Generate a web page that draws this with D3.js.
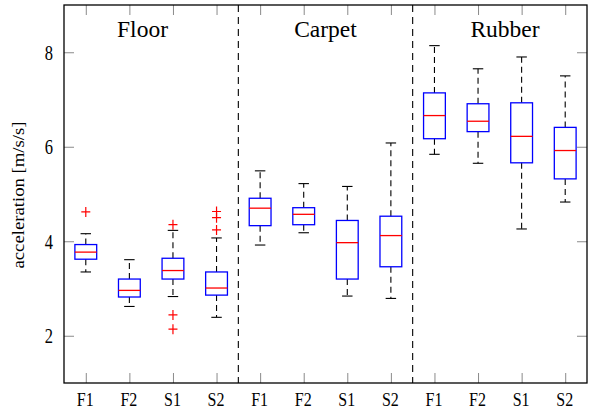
<!DOCTYPE html>
<html>
<head>
<meta charset="utf-8">
<script src="https://cdn.jsdelivr.net/npm/d3@7"></script>
<style>
  html, body { margin: 0; padding: 0; background: #fff; }
  svg { display: block; }
</style>
</head>
<body>
<svg id="chart" width="589" height="411"></svg>
<script>
// ---- data ----
const groups = ["Floor", "Carpet", "Rubber"];
const categories = ["F1", "F2", "S1", "S2", "F1", "F2", "S1", "S2", "F1", "F2", "S1", "S2"];
const lowerWhisker = [3.35, 2.62, 2.83, 2.39, 3.92, 4.18, 2.84, 2.79, 5.84, 5.65, 4.26, 4.83];
const q1Values     = [3.62, 2.82, 3.20, 2.86, 4.33, 4.35, 3.20, 3.46, 6.17, 6.32, 5.66, 5.32];
const medianValues = [3.77, 2.96, 3.38, 3.01, 4.70, 4.57, 3.97, 4.12, 6.66, 6.54, 6.22, 5.92];
const q3Values     = [3.93, 3.20, 3.64, 3.35, 4.91, 4.71, 4.44, 4.53, 7.14, 6.91, 6.93, 6.41];
const upperWhisker = [4.16, 3.61, 4.23, 4.07, 5.49, 5.22, 5.16, 6.08, 8.14, 7.65, 7.90, 7.50];
const outliers = [[4.62], [], [4.35, 2.44, 2.14], [4.63, 4.50, 4.24], [], [], [], [], [], [], [], []];
const yTicks = [2, 4, 6, 8];
const yLabel = "acceleration [m/s/s]";

// ---- layout ----
const FONT = "'Liberation Serif', serif";
const svg = d3.select("#chart");
const mLeft = 64, mRight = 587, mTop = 5, mBottom = 383;
const x = d3.scaleLinear().domain([0.5, 12.5]).range([mLeft, mRight]);
const y = d3.scaleLinear().domain([1, 9]).range([mBottom, mTop]);
const positions = categories.map((c, i) => i + 1);
const tickColor = "#8a8a8a";

// Left axis (ticks inward)
const gL = svg.append("g").attr("transform", `translate(${mLeft},0)`)
  .call(d3.axisLeft(y).tickValues(yTicks).tickFormat(d3.format("d")).tickSizeInner(-10).tickSizeOuter(0).tickPadding(11));
gL.attr("font-family", null).attr("font-size", null);
gL.select(".domain").remove();
gL.selectAll(".tick line").attr("stroke", tickColor);
gL.selectAll(".tick text").attr("dy", null).attr("y", null).attr("x", null)
  .attr("text-anchor", "end").attr("fill", "#000")
  .style("font-family", FONT).style("font-size", "16.5px")
  .attr("transform", "translate(-11,6.8) scale(1,1.25)");

// Right mirror ticks
const gR = svg.append("g").attr("transform", `translate(${mRight},0)`)
  .call(d3.axisRight(y).tickValues(yTicks).tickFormat("").tickSizeInner(-10).tickSizeOuter(0));
gR.select(".domain").remove();
gR.selectAll(".tick line").attr("stroke", tickColor);

// Bottom axis (ticks inward)
const gB = svg.append("g").attr("transform", `translate(0,${mBottom})`)
  .call(d3.axisBottom(x).tickValues(positions).tickFormat((d, i) => categories[i]).tickSizeInner(-10).tickSizeOuter(0));
gB.attr("font-family", null).attr("font-size", null);
gB.select(".domain").remove();
gB.selectAll(".tick line").attr("stroke", tickColor);
gB.selectAll(".tick text").attr("dy", null).attr("y", null).attr("fill", "#000")
  .style("font-family", FONT).style("font-size", "16px")
  .attr("transform", "translate(-1,22.7) scale(1,1.18)");

// Top mirror ticks
const gT = svg.append("g").attr("transform", `translate(0,${mTop})`)
  .call(d3.axisTop(x).tickValues(positions).tickFormat("").tickSizeInner(-10).tickSizeOuter(0));
gT.select(".domain").remove();
gT.selectAll(".tick line").attr("stroke", tickColor);

// Group separators
[4.5, 8.5].forEach(v => {
  svg.append("line")
    .attr("x1", x(v)).attr("x2", x(v)).attr("y1", mTop).attr("y2", mBottom)
    .attr("stroke", "#000").attr("stroke-width", 1.1).attr("stroke-dasharray", "7,5");
});

// Group labels
const groupLabelX = [142.5, 325.5, 505];
svg.selectAll("text.group").data(groups).join("text")
  .attr("class", "group")
  .attr("x", (d, i) => groupLabelX[i]).attr("y", 36.5)
  .attr("text-anchor", "middle").attr("fill", "#000")
  .style("font-family", FONT).style("font-size", "23.5px")
  .text(d => d);

// Boxes
const halfBox = 0.25, halfCap = 0.12;
const boxes = svg.append("g");
positions.forEach((p, i) => {
  const g = boxes.append("g");
  g.append("line").attr("x1", x(p)).attr("x2", x(p))
    .attr("y1", y(q3Values[i])).attr("y2", y(upperWhisker[i]))
    .attr("stroke", "#000").attr("stroke-width", 1.1).attr("stroke-dasharray", "6,4");
  g.append("line").attr("x1", x(p)).attr("x2", x(p))
    .attr("y1", y(q1Values[i])).attr("y2", y(lowerWhisker[i]))
    .attr("stroke", "#000").attr("stroke-width", 1.1).attr("stroke-dasharray", "6,4");
  [upperWhisker[i], lowerWhisker[i]].forEach(v => {
    g.append("line").attr("x1", x(p - halfCap)).attr("x2", x(p + halfCap))
      .attr("y1", y(v)).attr("y2", y(v)).attr("stroke", "#000").attr("stroke-width", 1.1);
  });
  g.append("rect").attr("x", x(p - halfBox)).attr("width", x(p + halfBox) - x(p - halfBox))
    .attr("y", y(q3Values[i])).attr("height", y(q1Values[i]) - y(q3Values[i]))
    .attr("fill", "none").attr("stroke", "#0000ff").attr("stroke-width", 1.3);
  g.append("line").attr("x1", x(p - halfBox)).attr("x2", x(p + halfBox))
    .attr("y1", y(medianValues[i])).attr("y2", y(medianValues[i]))
    .attr("stroke", "#ff0000").attr("stroke-width", 1.3);
  outliers[i].forEach(v => {
    const cx = x(p), cy = y(v);
    g.append("path").attr("d", `M${cx - 4.5},${cy}H${cx + 4.5}M${cx},${cy - 5}V${cy + 5}`)
      .attr("stroke", "#ff0000").attr("stroke-width", 1.2).attr("fill", "none");
  });
});

// Frame
svg.append("rect").attr("x", mLeft).attr("y", mTop).attr("width", mRight - mLeft).attr("height", mBottom - mTop)
  .attr("fill", "none").attr("stroke", "#000").attr("stroke-width", 1.3);

// Y label
svg.append("text")
  .attr("transform", "translate(24,195) rotate(-90) scale(1.17,1)")
  .attr("text-anchor", "middle").attr("fill", "#000")
  .style("font-family", FONT).style("font-size", "16px")
  .text(yLabel);
</script>
</body>
</html>
